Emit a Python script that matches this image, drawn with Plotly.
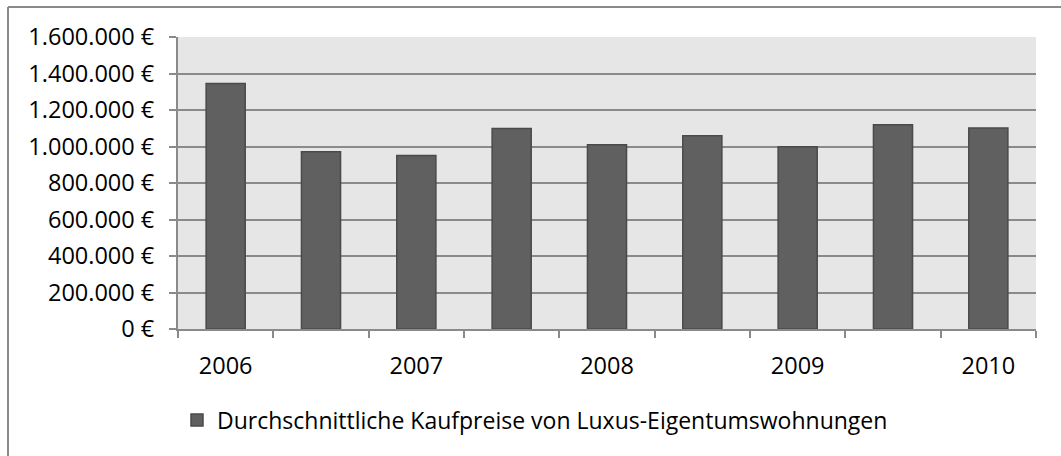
import plotly.graph_objects as go

# Data
years = ["2006", "2007", "2008", "2009", "2010"]
values = [1345000, 971000, 951000, 1099000, 1009000, 1059000, 998000, 1119000, 1102000]
series_name = "Durchschnittliche Kaufpreise von Luxus-Eigentumswohnungen"

W, H = 1061, 456
L, R, T, B = 178, 25, 37, 127
pw, ph = W - L - R, H - T - B

def px(xp):
    return (xp - L) / pw

def py(yp):
    return (H - B - yp) / ph

n = len(values)
xs = list(range(n))

fig = go.Figure()
fig.add_trace(go.Bar(
    x=xs, y=values, name=series_name,
    marker=dict(color="#606060", line=dict(color="#4a4a4a", width=1.5)),
    width=0.41,
    showlegend=True,
))

font = dict(family="Open Sans, DejaVu Sans, sans-serif", size=23.5, color="#000000")

fig.update_layout(
    width=W, height=H,
    margin=dict(l=L, r=R, t=T, b=B, pad=0),
    paper_bgcolor="#ffffff",
    plot_bgcolor="#e6e6e6",
    separators=",.",
    font=font,
    showlegend=True,
    legend=dict(orientation="h", x=px(535), xanchor="center", y=py(420), yanchor="middle",
                font=dict(family=font["family"], size=23, color="#000000"),
                bgcolor="rgba(0,0,0,0)", itemwidth=30),
    xaxis=dict(
        range=[-0.5, n - 0.5],
        tickvals=xs[::2], ticktext=years,
        ticks="", showgrid=False, zeroline=False,
        showline=True, linecolor="#8a8a8a", linewidth=2,
        ticklabelstandoff=15,
        minor=dict(tickvals=[i - 0.5 for i in range(n + 1)], ticks="outside",
                   ticklen=7, tickcolor="#8a8a8a", tickwidth=2, showgrid=False),
        fixedrange=True,
    ),
    yaxis=dict(
        range=[0, 1600000], dtick=200000, tick0=0,
        tickformat=",.0f", ticksuffix=" €",
        ticks="outside", ticklen=7, tickcolor="#8a8a8a", tickwidth=2,
        showgrid=True, gridcolor="#8a8a8a", gridwidth=2,
        zeroline=False,
        showline=True, linecolor="#8a8a8a", linewidth=2,
        ticklabelstandoff=10,
    ),
    bargap=0.59,
    shapes=[
        dict(type="line", xref="paper", yref="paper", x0=px(8), x1=px(8), y0=py(7), y1=py(470),
             line=dict(color="#8a8a8a", width=2)),
        dict(type="line", xref="paper", yref="paper", x0=px(8), x1=px(1075), y0=py(7), y1=py(7),
             line=dict(color="#8a8a8a", width=2)),
    ],
)

fig.write_html("out.html", config={"displayModeBar": False},
               post_script="document.body.style.margin='0';document.body.style.overflow='hidden';")
